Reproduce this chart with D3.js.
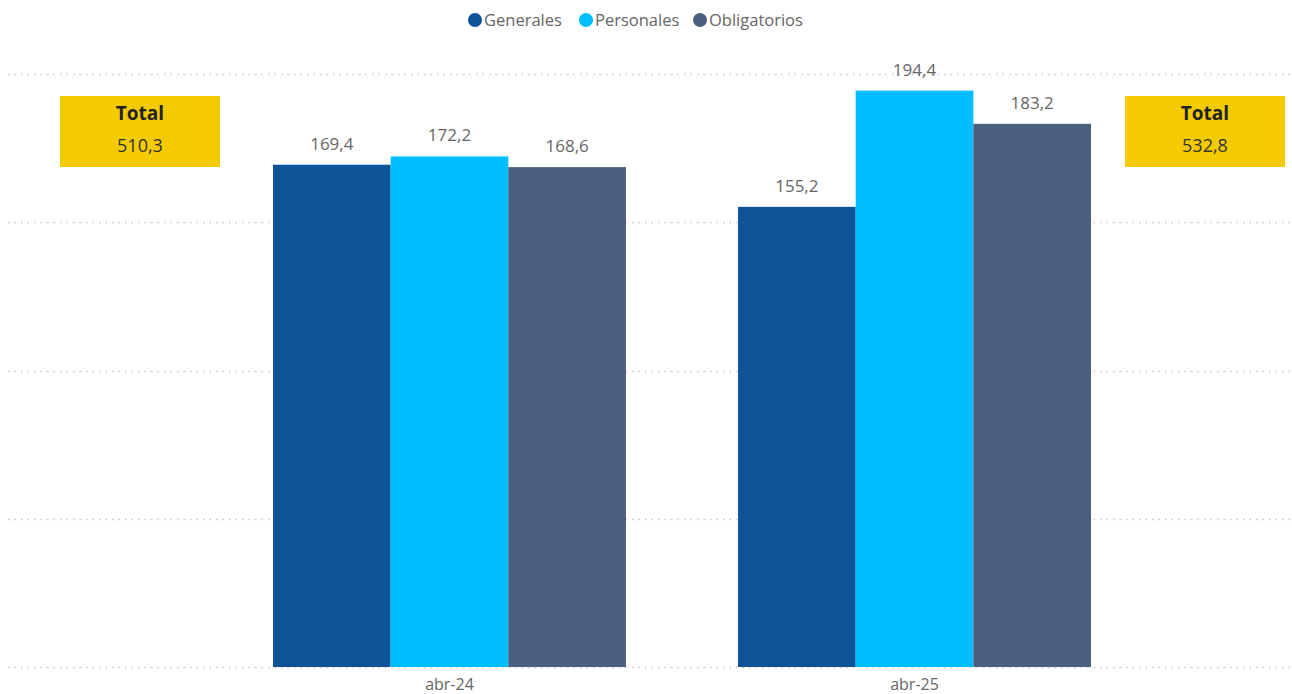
<!DOCTYPE html>
<html>
<head>
<meta charset="utf-8">
<script src="https://cdn.jsdelivr.net/npm/d3@7"></script>
<style>
  body { margin: 0; background: #fff; }
  svg { display: block; font-family: "Open Sans", "Noto Sans", sans-serif; }
</style>
</head>
<body>
<div id="chart"></div>
<script>
// data
var categories = ["abr-24", "abr-25"];
var series = ["Generales", "Personales", "Obligatorios"];
var colors = ["#0E5398", "#00BEFF", "#4D5F7F"];
var values = [
    [169.4, 172.2, 168.6],
    [155.2, 194.4, 183.2]
];
var totals = [510.3, 532.8];
var yTicks = [0, 50, 100, 150, 200];

var width = 1292;
var height = 694;
var fmt = function (v) { return d3.format(".1f")(v).replace(".", ","); };

var svg = d3.select("#chart").append("svg")
    .attr("width", width)
    .attr("height", height);

var x = d3.scaleBand()
    .domain(categories)
    .range([180, 1184])
    .paddingInner(0.241)
    .paddingOuter(0.2);

var xs = d3.scaleBand()
    .domain(series)
    .range([0, x.bandwidth()]);

var y = d3.scaleLinear()
    .domain([0, 200])
    .range([667, 74]);

// dotted gridlines
svg.append("g").selectAll("line")
    .data(yTicks)
    .enter().append("line")
    .attr("x1", 8).attr("x2", 1290)
    .attr("y1", function (d) { return Math.round(y(d)) + 0.5; })
    .attr("y2", function (d) { return Math.round(y(d)) + 0.5; })
    .attr("stroke", "#c8c8c8")
    .attr("stroke-width", 1.5)
    .attr("stroke-dasharray", "1.5,5");

// bars
var groups = svg.append("g").selectAll("g")
    .data(categories)
    .enter().append("g")
    .attr("transform", function (d) { return "translate(" + x(d) + ",0)"; });

groups.selectAll("rect")
    .data(function (d, i) { return values[i].map(function (v, j) { return { s: series[j], v: v, c: colors[j] }; }); })
    .enter().append("rect")
    .attr("x", function (d) { return xs(d.s); })
    .attr("width", xs.bandwidth())
    .attr("y", function (d) { return y(d.v); })
    .attr("height", function (d) { return y(0) - y(d.v); })
    .attr("fill", function (d) { return d.c; });

groups.selectAll("text")
    .data(function (d, i) { return values[i].map(function (v, j) { return { s: series[j], v: v }; }); })
    .enter().append("text")
    .attr("x", function (d) { return xs(d.s) + xs.bandwidth() / 2; })
    .attr("y", function (d) { return y(d.v) - 15; })
    .attr("text-anchor", "middle")
    .attr("fill", "#666")
    .attr("font-size", 17)
    .text(function (d) { return fmt(d.v); });

// x axis labels
svg.append("g").selectAll("text")
    .data(categories)
    .enter().append("text")
    .attr("x", function (d) { return x(d) + x.bandwidth() / 2; })
    .attr("y", 690)
    .attr("text-anchor", "middle")
    .attr("fill", "#666")
    .attr("font-size", 16)
    .text(function (d) { return d; });

// total boxes
var boxX = [60, 1125];
var boxes = svg.append("g").selectAll("g")
    .data(totals)
    .enter().append("g")
    .attr("transform", function (d, i) { return "translate(" + boxX[i] + ",96)"; });

boxes.append("rect")
    .attr("width", 160).attr("height", 71)
    .attr("fill", "#F4CB00");

boxes.append("text")
    .attr("x", 80).attr("y", 24)
    .attr("text-anchor", "middle")
    .attr("font-size", 19)
    .attr("font-weight", "bold")
    .attr("fill", "#222")
    .text("Total");

boxes.append("text")
    .attr("x", 80).attr("y", 56)
    .attr("text-anchor", "middle")
    .attr("font-size", 18)
    .attr("fill", "#333")
    .text(function (d) { return fmt(d); });

// legend
var legendX = [475, 586, 700];
var legend = svg.append("g").selectAll("g")
    .data(series)
    .enter().append("g")
    .attr("transform", function (d, i) { return "translate(" + legendX[i] + ",20)"; });

legend.append("circle")
    .attr("r", 7)
    .attr("fill", function (d, i) { return colors[i]; });

legend.append("text")
    .attr("x", 9).attr("y", 6)
    .attr("font-size", 16.5)
    .attr("fill", "#666")
    .text(function (d) { return d; });
</script>
</body>
</html>
